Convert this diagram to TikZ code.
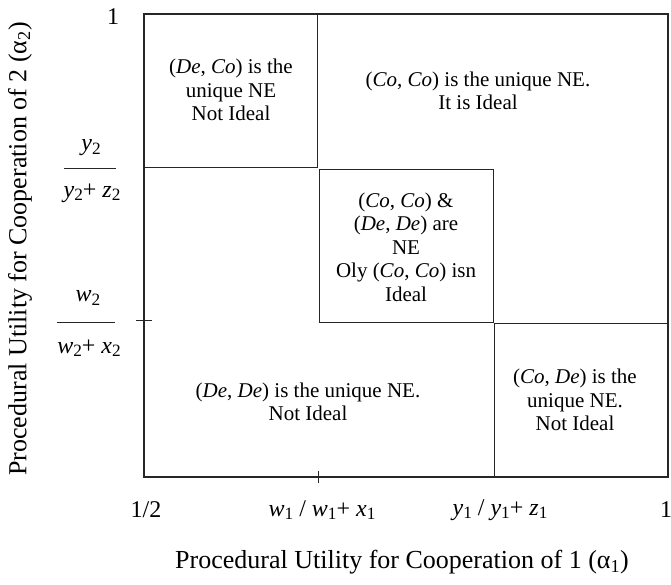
\documentclass[tikz,border=0pt]{standalone}
\usepackage{fontspec}
\setmainfont{Liberation Serif}
\usepackage{tikz}
\usetikzlibrary{positioning}
\newcommand{\pv}[2]{\textit{#1}\raisebox{-0.3ex}{\scalebox{0.72}{#2}}}
\tikzset{
  frame/.style={draw=black!85, line width=1.3pt},
  region/.style={draw=black!85, line width=0.9pt},
  tickmark/.style={draw=black!85, line width=0.9pt},
  fracrule/.style={draw=black!85, line width=0.8pt},
  celltxt/.style={align=center, inner sep=0pt, font=\fontsize{21}{23.5}\selectfont},
  ticklbl/.style={inner sep=0pt, font=\fontsize{24}{26}\selectfont},
  axislbl/.style={inner sep=0pt, font=\fontsize{26}{28}\selectfont},
}

\begin{document}
\begin{tikzpicture}[x=1pt,y=1pt]
  \useasboundingbox (0,0) rectangle (671,584);
  % frame and the four regions
  \draw[frame] (144,107) rectangle (668,570);
  \draw[region] (144,570) rectangle (317,417);
  \draw[region] (319,415) rectangle (493,262);
  \draw[region] (494,261) rectangle (668,107);
  % ticks
  \draw[tickmark] (136,264) -- (152,264);
  \draw[tickmark] (318,101) -- (318,113);
  % region texts
  \node[celltxt] (dcbox) at (231,494)
    {(\textit{De}, \textit{Co}) is the\\unique NE\\Not Ideal};
  \node[celltxt] (ccbox) at (478,493)
    {(\textit{Co}, \textit{Co}) is the unique NE.\\It is Ideal};
  \node[celltxt] (bothbox) at (406,337)
    {(\textit{Co}, \textit{Co}) \&\\(\textit{De}, \textit{De}) are\\NE\\Oly (\textit{Co}, \textit{Co}) isn\\Ideal};
  \node[celltxt] (ddbox) at (308,182)
    {(\textit{De}, \textit{De}) is the unique NE.\\Not Ideal};
  \node[celltxt] (cdbox) at (575,184)
    {(\textit{Co}, \textit{De}) is the\\unique NE.\\Not Ideal};
  % x-axis values
  \node[ticklbl] (xhalf) at (146,74) {1/2};
  \node[ticklbl] (xw) at (322,74) {\pv{w}{1} / \pv{w}{1}+ \pv{x}{1}};
  \node[ticklbl] (xy) at (500,74) {\pv{y}{1} / \pv{y}{1}+ \pv{z}{1}};
  \node[ticklbl] (xone) at (666,74) {1};
  % y-axis values
  \node[ticklbl] (yone) at (113,567) {1};
  \node[ticklbl] (ynum) at (91,436) {\pv{y}{2}};
  \node[ticklbl] (yden) at (92,391) {\pv{y}{2}+ \pv{z}{2}};
  \draw[fracrule] ([yshift=25pt,xshift=1pt]yden.west) -- ([yshift=25pt,xshift=-5pt]yden.east);
  \node[ticklbl] (wnum) at (88,286) {\pv{w}{2}};
  \node[ticklbl] (wden) at (89,236) {\pv{w}{2}+ \pv{x}{2}};
  \draw[fracrule] ([yshift=26pt]wden.west) -- ([yshift=26pt,xshift=-6pt]wden.east);
  % axis titles
  \node[axislbl] (xtitle) at (402,22)
    {Procedural Utility for Cooperation of 1 (α\textsubscript{1})};
  \node[axislbl,rotate=90] (ytitle) at (20,335)
    {Procedural Utility for Cooperation of 2 (α\textsubscript{2})};
\end{tikzpicture}
\end{document}
